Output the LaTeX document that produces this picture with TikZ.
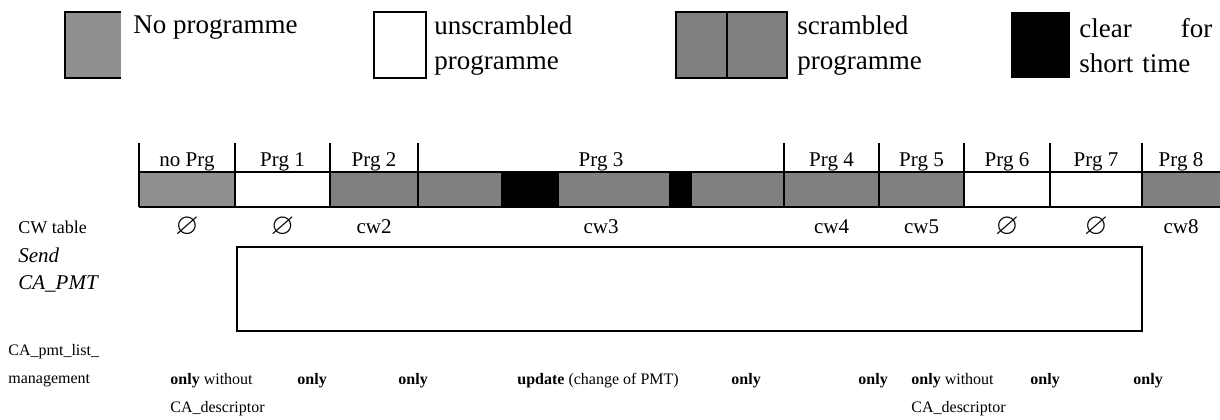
\documentclass[tikz,border=0pt]{standalone}
\usepackage{amssymb}
\usepackage{fontspec}
\setmainfont{Liberation Serif}
\usepackage{tikz}
\definecolor{noprg}{RGB}{143,143,143}
\definecolor{scr}{RGB}{128,128,128}

\begin{document}
\begin{tikzpicture}[scale=0.1757]
\tikzstyle{every node}+=[inner sep=0pt]
\tikzstyle{legtext}=[anchor=west, align=left, font=\fontsize{13.5}{17.5}\selectfont]
\tikzstyle{prglab}=[font=\fontsize{10.5}{12}\selectfont]
\tikzstyle{nocw}=[font=\fontsize{15}{17}\selectfont]
\tikzstyle{sidelab}=[anchor=west, font=\fontsize{10.5}{12}\selectfont\itshape]
\tikzstyle{mgmt}=[anchor=west, font=\fontsize{8}{10}\selectfont]
\useasboundingbox (0,0) rectangle (122,-41.9);
% legend
\fill [noprg] (6.5,-1.2) rectangle (12.1,-7.8);
\draw [line width=1pt] (12.1,-1.2) -- (6.5,-1.2) -- (6.5,-7.8) -- (12.1,-7.8);
\draw (13.3,-2.8) node [legtext] (lnone) {No programme};
\draw [line width=1pt] (37.35,-1.2) rectangle (42.6,-7.8);
\draw (43.4,-4.55) node [legtext] (lclear) {unscrambled\\programme};
\draw [line width=1pt, fill=scr] (67.55,-1.2) rectangle (78.7,-7.8);
\draw [line width=1pt] (72.65,-1.2) -- (72.65,-7.8);
\draw (79.7,-4.55) node [legtext] (lscr) {scrambled\\programme};
\fill [black] (101.1,-1.2) rectangle (107,-7.8);
\draw (107.9,-4.55) node [legtext, text width=66.5pt] (lshort) {clear\hfill for\\short time};
% strip
\fill [noprg] (13.9,-17.2) rectangle (23.5,-20.7);
\fill [scr] (33.0,-17.2) rectangle (50.1,-20.7);
\fill [black] (50.1,-17.2) rectangle (55.9,-20.7);
\fill [scr] (55.9,-17.2) rectangle (66.9,-20.7);
\fill [black] (66.9,-17.2) rectangle (69.2,-20.7);
\fill [scr] (69.2,-17.2) rectangle (96.4,-20.7);
\fill [scr] (114.2,-17.2) rectangle (122,-20.7);
\draw [line width=1pt] (13.9,-17.2) -- (122,-17.2);
\draw [line width=1pt] (13.9,-20.7) -- (122,-20.7);
\draw [line width=1pt] (13.9,-14.3) -- (13.9,-20.7);
\draw [line width=1pt] (23.5,-14.3) -- (23.5,-20.7);
\draw [line width=1pt] (33.0,-14.3) -- (33.0,-20.7);
\draw [line width=1pt] (41.8,-14.3) -- (41.8,-20.7);
\draw [line width=1pt] (78.4,-14.3) -- (78.4,-20.7);
\draw [line width=1pt] (87.9,-14.3) -- (87.9,-20.7);
\draw [line width=1pt] (96.4,-14.3) -- (96.4,-20.7);
\draw [line width=1pt] (105.0,-14.3) -- (105.0,-20.7);
\draw [line width=1pt] (114.2,-14.3) -- (114.2,-20.7);
% programme names
\draw (18.7,-16.15) node [prglab] (p0) {no Prg};
\draw (28.25,-16.15) node [prglab] (p1) {Prg 1};
\draw (37.4,-16.15) node [prglab] (p2) {Prg 2};
\draw (60.1,-16.15) node [prglab] (p3) {Prg 3};
\draw (83.15,-16.15) node [prglab] (p4) {Prg 4};
\draw (92.15,-16.15) node [prglab] (p5) {Prg 5};
\draw (100.7,-16.15) node [prglab] (p6) {Prg 6};
\draw (109.6,-16.15) node [prglab] (p7) {Prg 7};
\draw (118.1,-16.15) node [prglab] (p8) {Prg 8};
% control words
\draw (1.8,-22.7) node [anchor=west, font=\fontsize{9}{11}\selectfont] (cwtab) {CW table};
\draw (18.7,-22.7) node [nocw] (cw0) {$\varnothing$};
\draw (28.25,-22.7) node [nocw] (cw1) {$\varnothing$};
\draw (37.4,-22.7) node [prglab] (cw2) {cw2};
\draw (60.1,-22.7) node [prglab] (cw3) {cw3};
\draw (83.15,-22.7) node [prglab] (cw4) {cw4};
\draw (92.15,-22.7) node [prglab] (cw5) {cw5};
\draw (100.7,-22.7) node [nocw] (cw6) {$\varnothing$};
\draw (109.6,-22.7) node [nocw] (cw7) {$\varnothing$};
\draw (118.1,-22.7) node [prglab] (cw8) {cw8};
% send CA_PMT
\draw (1.8,-25.5) node [sidelab] (send) {Send};
\draw (1.8,-28.4) node [sidelab] (capmt) {CA\_PMT};
\draw [line width=1pt] (23.7,-24.7) rectangle (114.2,-33.1);
% list management
\draw (0.8,-35.2) node [mgmt] (mg1) {CA\_pmt\_list\_};
\draw (0.8,-38.1) node [mgmt] (mg2) {management};
\draw (17.0,-38.1) node [mgmt] (m0) {\textbf{only} without};
\draw (17.0,-40.9) node [mgmt] (d0) {CA\_descriptor};
\draw (29.7,-38.1) node [mgmt] (m1) {\textbf{only}};
\draw (39.8,-38.1) node [mgmt] (m2) {\textbf{only}};
\draw (51.7,-38.1) node [mgmt] (m3) {\textbf{update} (change of PMT)};
\draw (73.1,-38.1) node [mgmt] (m4) {\textbf{only}};
\draw (85.8,-38.1) node [mgmt] (m5) {\textbf{only}};
\draw (91.1,-38.1) node [mgmt] (m6) {\textbf{only} without};
\draw (91.1,-40.9) node [mgmt] (d6) {CA\_descriptor};
\draw (103.0,-38.1) node [mgmt] (m7) {\textbf{only}};
\draw (113.3,-38.1) node [mgmt] (m8) {\textbf{only}};
\end{tikzpicture}
\end{document}
